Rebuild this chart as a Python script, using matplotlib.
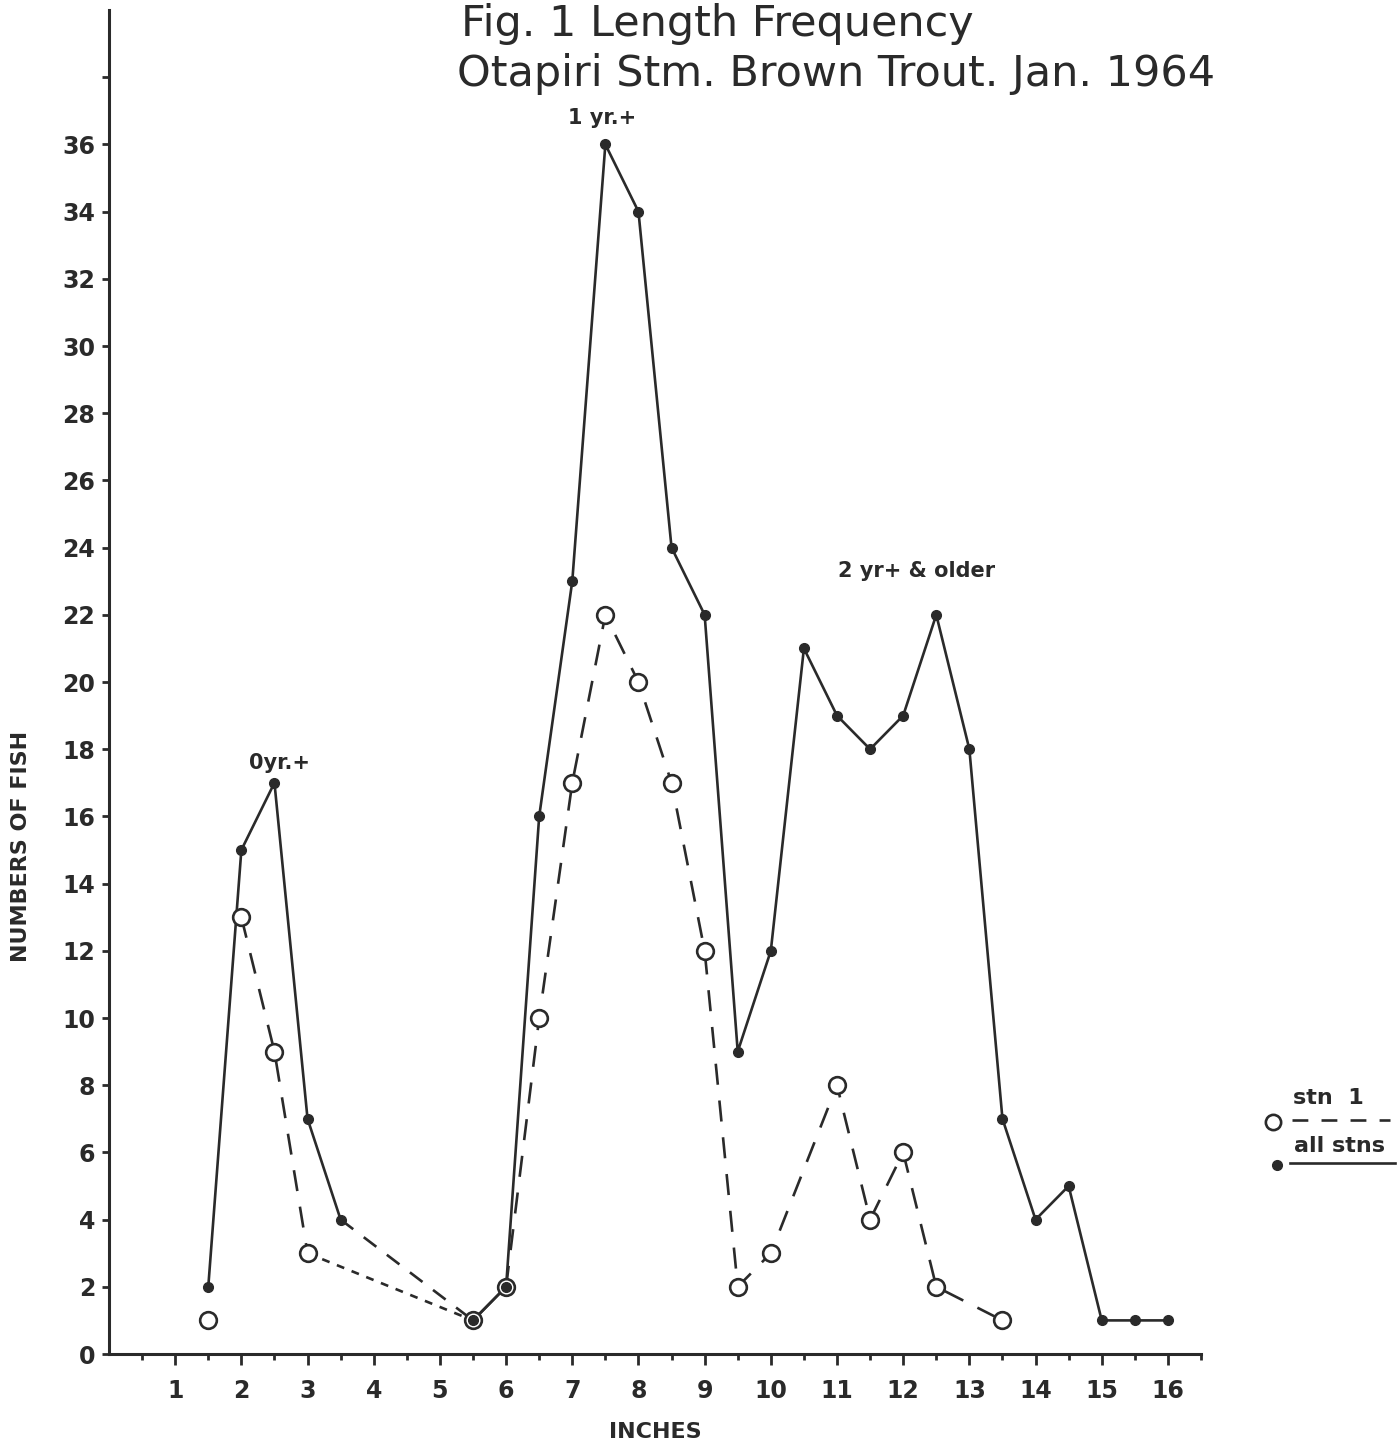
import matplotlib
matplotlib.use("Agg")
import matplotlib.pyplot as plt
import numpy as np
from matplotlib.lines import Line2D

# ---- data ----
all_x = [1.5, 2, 2.5, 3, 3.5, 5.5, 6, 6.5, 7, 7.5, 8, 8.5, 9, 9.5, 10, 10.5,
         11, 11.5, 12, 12.5, 13, 13.5, 14, 14.5, 15, 15.5, 16]
all_y = [2, 15, 17, 7, 4, 1, 2, 16, 23, 36, 34, 24, 22, 9, 12, 21,
         19, 18, 19, 22, 18, 7, 4, 5, 1, 1, 1]

stn1_x = [1.5, 2, 2.5, 3, 5.5, 6, 6.5, 7, 7.5, 8, 8.5, 9, 9.5, 10, 11,
          11.5, 12, 12.5, 13.5]
stn1_y = [1, 13, 9, 3, 1, 2, 10, 17, 22, 20, 17, 12, 2, 3, 8,
          4, 6, 2, 1]

x_ticks = list(range(1, 17))
y_ticks = list(range(0, 37, 2))

title1 = "Fig. 1 Length Frequency"
title2 = "Otapiri Stm. Brown Trout. Jan. 1964"

annots = [("0yr.+", 2.58, 17.6), ("1 yr.+", 7.45, 36.8), ("2 yr+ & older", 12.2, 23.3)]

# ---- figure ----
W, H = 1399, 1448
fig = plt.figure(figsize=(W / 100, H / 100), dpi=100)
fig.patch.set_facecolor("white")
ax = fig.add_axes([109 / W, (H - 1354) / H, 1092 / W, 1344 / H])
ax.set_xlim(0, 16.5)
ax.set_ylim(0, 40)

ink = "#2a2a2a"
lw = 1.9
fontlab = dict(family="DejaVu Sans", weight="bold", color=ink)

# all stations: solid, dashed gap from 3.5 to 5.5
i35 = all_x.index(3.5)
i55 = all_x.index(5.5)
ax.plot(all_x[:i35 + 1], all_y[:i35 + 1], color=ink, lw=lw, ls="-", zorder=2)
ax.plot(all_x[i35:i55 + 1], all_y[i35:i55 + 1], color=ink, lw=lw, ls=(0, (6, 5)), zorder=2)
ax.plot(all_x[i55:], all_y[i55:], color=ink, lw=lw, ls="-", zorder=2)

# station 1
j2 = stn1_x.index(2)
j3 = stn1_x.index(3)
j55 = stn1_x.index(5.5)
j6 = stn1_x.index(6)
ax.plot(stn1_x[j2:j3 + 1], stn1_y[j2:j3 + 1], color=ink, lw=lw, ls=(0, (8, 6)), zorder=2)
ax.plot(stn1_x[j3:j55 + 1], stn1_y[j3:j55 + 1], color=ink, lw=lw, ls=(0, (3, 3)), zorder=2)
ax.plot(stn1_x[j55:j6 + 1], stn1_y[j55:j6 + 1], color=ink, lw=lw, ls="-", zorder=2)
ax.plot(stn1_x[j6:], stn1_y[j6:], color=ink, lw=lw, ls=(0, (8, 6)), zorder=2)
ax.plot(stn1_x, stn1_y, ls="none", marker="o", ms=12, mfc="white", mec=ink, mew=1.9, zorder=3)
ax.plot(all_x, all_y, ls="none", marker="o", ms=7, color=ink, mec=ink, zorder=4)

# axes styling
for s in ["top", "right"]:
    ax.spines[s].set_visible(False)
ax.spines["left"].set_linewidth(2.2)
ax.spines["bottom"].set_linewidth(2.2)
ax.spines["left"].set_color(ink)
ax.spines["bottom"].set_color(ink)
ax.spines["left"].set_bounds(0, 40)
ax.set_xticks(x_ticks)
ax.set_xticklabels([str(t) for t in x_ticks], fontsize=17, **fontlab)
ax.set_xticks(np.arange(0.5, 16.6, 1), minor=True)
ax.set_yticks(y_ticks + [38])
ax.set_yticklabels([str(t) for t in y_ticks] + [""], fontsize=17, **fontlab)
ax.tick_params(axis="x", which="major", direction="out", length=8, width=2, colors=ink, pad=10)
ax.tick_params(axis="x", which="minor", direction="out", length=4, width=2, colors=ink)
ax.tick_params(axis="y", which="major", direction="out", length=5, width=2, colors=ink, pad=5)

ax.set_xlabel("INCHES", fontsize=16, labelpad=14, **fontlab)
ax.set_ylabel("NUMBERS OF FISH", fontsize=16, **fontlab)
ax.yaxis.set_label_coords(-0.071, 0.378)

for txt, xx, yy in annots:
    ax.text(xx, yy, txt, ha="center", va="center", fontsize=15, **fontlab)

# titles
fig.text(717 / W, 1 - 24 / H, title1, ha="center", va="center", fontsize=31,
         family="DejaVu Sans", color=ink)
fig.text(836 / W, 1 - 74 / H, title2, ha="center", va="center", fontsize=31,
         family="DejaVu Sans", color=ink)

# legend drawn manually at right
fig.text(1328 / W, 1 - 1098 / H, "stn  1", ha="center", va="center", fontsize=16, **fontlab)
fig.text(1340 / W, 1 - 1146 / H, "all stns", ha="center", va="center", fontsize=16, **fontlab)
fig.add_artist(Line2D([1273 / W], [1 - 1122 / H], transform=fig.transFigure, marker="o",
                      ms=11, mfc="white", mec=ink, mew=1.9, ls="none"))
fig.add_artist(Line2D([1292 / W, 1390 / W], [1 - 1120 / H] * 2, transform=fig.transFigure,
                      color=ink, lw=lw, ls=(0, (6, 5))))
fig.add_artist(Line2D([1277 / W], [1 - 1165 / H], transform=fig.transFigure, marker="o",
                      ms=7, color=ink, ls="none"))
fig.add_artist(Line2D([1290 / W, 1395 / W], [1 - 1163 / H] * 2, transform=fig.transFigure,
                      color=ink, lw=lw))

fig.savefig("out.png", dpi=100, facecolor="white")
